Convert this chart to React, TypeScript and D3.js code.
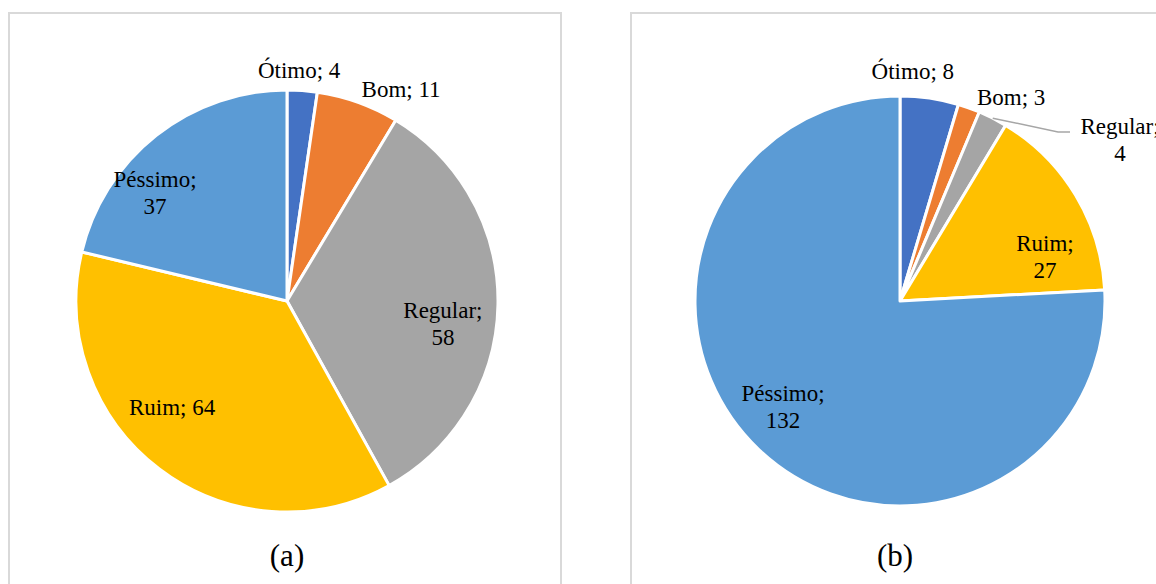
import React from 'react'
import * as d3 from 'd3'

// categories, in clockwise order from 12 o'clock
const categories = ['Ótimo', 'Bom', 'Regular', 'Ruim', 'Péssimo']
const colors = ['#4472C4', '#ED7D31', '#A5A5A5', '#FFC000', '#5B9BD5']

// values
const valuesA = [4, 11, 58, 64, 37]
const valuesB = [8, 3, 4, 27, 132]

// label placement: polar angle (deg, clockwise from top) and radius factor
const labelAngleA = [3.0, 28.4, 98.4, 227.3, 309.3]
const labelRadiusA = [1.096, 1.137, 0.747, 0.741, 0.808]
const labelSplitA = [false, false, true, false, true]

const labelAngleB = [3.2, 28.6, 53.8, 73.1, 227.8]
const labelRadiusB = [1.119, 1.133, 1.33, 0.739, 0.77]
const labelSplitB = [false, false, true, true, true]
const leaderB = [false, false, true, false, false]

const captions = ['(a)', '(b)']

const W = 1156
const H = 584
const FONT = "'Liberation Serif', 'Times New Roman', serif"

interface PieProps {
  values: number[]
  cx: number
  cy: number
  r: number
  labelAngle: number[]
  labelRadius: number[]
  labelSplit: boolean[]
  leader?: boolean[]
}

const polar = (angleDeg: number, radius: number): [number, number] => {
  const a = (angleDeg * Math.PI) / 180
  return [Math.sin(a) * radius, -Math.cos(a) * radius]
}

const Pie: React.FC<PieProps> = ({ values, cx, cy, r, labelAngle, labelRadius, labelSplit, leader }) => {
  const pie = d3.pie<number>().sort(null).value(d => d)
  const arcs = pie(values)
  const arc = d3.arc<d3.PieArcDatum<number>>().innerRadius(0).outerRadius(r)
  const lineH = 27

  return (
    <g transform={`translate(${cx},${cy})`}>
      {arcs.map((a, i) => (
        <path key={i} d={arc(a) || ''} fill={colors[i]} stroke="#fff" strokeWidth={3} strokeLinejoin="round" />
      ))}
      {arcs.map((a, i) => {
        const [lx, ly] = polar(labelAngle[i], labelRadius[i] * r)
        const lines = labelSplit[i]
          ? [`${categories[i]};`, `${values[i]}`]
          : [`${categories[i]}; ${values[i]}`]
        const top = ly - ((lines.length - 1) * lineH) / 2
        let leaderPath = null
        if (leader && leader[i]) {
          const mid = ((a.startAngle + a.endAngle) / 2) * 180 / Math.PI
          const [sx, sy] = polar(mid, r)
          const ex = lx - 50
          const ey = ly - 8
          leaderPath = (
            <path d={`M${sx},${sy}L${ex - 12},${ey}L${ex},${ey}`} fill="none" stroke="#a6a6a6" strokeWidth={1.5} />
          )
        }
        return (
          <g key={'l' + i}>
            {leaderPath}
            {lines.map((t, k) => (
              <text
                key={k}
                x={lx}
                y={top + k * lineH}
                textAnchor="middle"
                dominantBaseline="central"
                fontSize={23}
                fill="#000"
                style={{ whiteSpace: 'pre', fontFamily: FONT }}
              >
                {t}
              </text>
            ))}
          </g>
        )
      })}
    </g>
  )
}

export default function App() {
  return (
    <svg width={W} height={H} style={{ position: 'absolute', left: 0, top: 0, background: '#fff' }}>
      <rect x={9} y={13} width={552} height={600} fill="#fff" stroke="#d9d9d9" strokeWidth={2} />
      <rect x={631} y={13} width={600} height={600} fill="#fff" stroke="#d9d9d9" strokeWidth={2} />
      <Pie
        values={valuesA}
        cx={287}
        cy={301}
        r={211}
        labelAngle={labelAngleA}
        labelRadius={labelRadiusA}
        labelSplit={labelSplitA}
      />
      <Pie
        values={valuesB}
        cx={900}
        cy={301}
        r={205}
        labelAngle={labelAngleB}
        labelRadius={labelRadiusB}
        labelSplit={labelSplitB}
        leader={leaderB}
      />
      {captions.map((c, i) => (
        <text
          key={c}
          x={i === 0 ? 287 : 895}
          y={566}
          textAnchor="middle"
          fontSize={31}
          fill="#000"
          style={{ fontFamily: FONT }}
        >
          {c}
        </text>
      ))}
    </svg>
  )
}
